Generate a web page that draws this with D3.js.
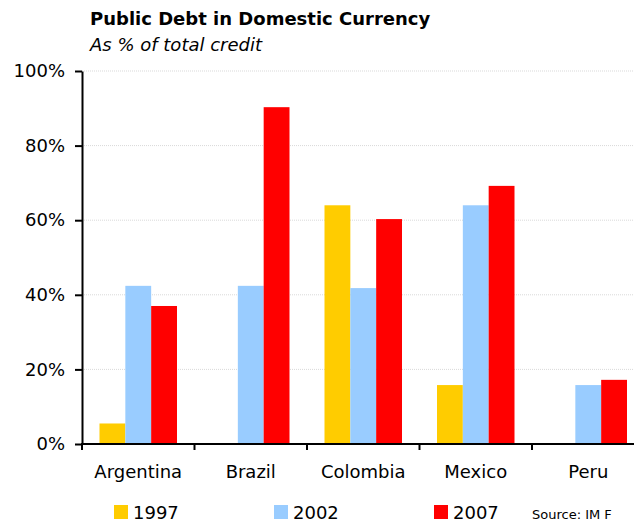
<!DOCTYPE html>
<html>
<head>
<meta charset="utf-8">
<script src="https://cdn.jsdelivr.net/npm/d3@7"></script>
<style>
  html, body { margin: 0; padding: 0; background: #fff; }
  svg { display: block; }
  text { font-family: "DejaVu Sans", Verdana, sans-serif; fill: #000; }
</style>
</head>
<body>
<svg id="chart" width="634" height="523"></svg>
<script>
// Share of public debt issued in domestic currency, % of total credit
const countries = ["Argentina", "Brazil", "Colombia", "Mexico", "Peru"];
const years = ["1997", "2002", "2007"];
const values1997 = [5.5, null, 64.0, 15.8, null];
const values2002 = [42.4, 42.4, 41.8, 64.0, 15.8];
const values2007 = [37.0, 90.3, 60.3, 69.2, 17.2];
const yTicks = [0, 20, 40, 60, 80, 100];
const colors = ["#FFCC00", "#99CCFF", "#FF0000"];

const series = [values1997, values2002, values2007];

const svg = d3.select("#chart");
const plotLeft = 82, plotTop = 71, plotBottom = 444;
const bandWidth = 112.5;
const plotRight = plotLeft + bandWidth * countries.length;

const x = d3.scaleBand().domain(countries).range([plotLeft, plotRight]).paddingInner(0).paddingOuter(0);
const xInner = d3.scaleBand().domain(years).range([17.5, bandWidth - 17.5]);
const y = d3.scaleLinear().domain([0, 100]).range([plotBottom, plotTop]);

// Title block
svg.append("text").attr("x", 90).attr("y", 25)
  .style("font-weight", "bold").style("font-size", "18px")
  .text("Public Debt in Domestic Currency");
svg.append("text").attr("x", 90).attr("y", 51)
  .style("font-style", "italic").style("font-size", "18px")
  .text("As % of total credit");

// Dotted gridlines
svg.append("g").selectAll("line").data(yTicks.filter(d => d > 0)).join("line")
  .attr("x1", plotLeft).attr("x2", 634)
  .attr("y1", d => y(d)).attr("y2", d => y(d))
  .attr("stroke", "#d9d9d9").attr("stroke-width", 1)
  .attr("stroke-dasharray", "1,1");

// Bars
const groups = svg.append("g").selectAll("g").data(countries).join("g")
  .attr("transform", d => `translate(${x(d)},0)`);
groups.selectAll("rect")
  .data((c, i) => years.map((yr, k) => ({ yr, k, v: series[k][i] })).filter(d => d.v != null))
  .join("rect")
  .attr("x", d => xInner(d.yr))
  .attr("width", xInner.bandwidth())
  .attr("y", d => y(d.v))
  .attr("height", d => y(0) - y(d.v))
  .attr("fill", d => colors[d.k]);

// Y axis
const yAxis = svg.append("g").attr("transform", `translate(${plotLeft},0)`)
  .call(d3.axisLeft(y).tickValues(yTicks).tickFormat(d => d + "%").tickSize(7).tickSizeOuter(0).tickPadding(10));
yAxis.select(".domain").attr("stroke", "#000").attr("stroke-width", 2);
yAxis.selectAll(".tick line").attr("stroke", "#000").attr("stroke-width", 2);
yAxis.selectAll("text").style("font-size", "18px").style("font-family", "DejaVu Sans, sans-serif");

// X axis with ticks at category boundaries
const xAxisG = svg.append("g");
xAxisG.append("line").attr("x1", plotLeft - 1).attr("x2", 634)
  .attr("y1", plotBottom).attr("y2", plotBottom).attr("stroke", "#000").attr("stroke-width", 2);
xAxisG.selectAll("line.tk").data(countries).join("line").attr("class", "tk")
  .attr("x1", d => x(d)).attr("x2", d => x(d))
  .attr("y1", plotBottom).attr("y2", plotBottom + 6)
  .attr("stroke", "#000").attr("stroke-width", 2);
xAxisG.selectAll("text").data(countries).join("text")
  .attr("x", d => x(d) + x.bandwidth() / 2).attr("y", 478)
  .attr("text-anchor", "middle").style("font-size", "18px")
  .text(d => d);

// Legend
const legendX = [114, 274, 434];
const legend = svg.append("g").selectAll("g").data(years).join("g")
  .attr("transform", (d, i) => `translate(${legendX[i]},505)`);
legend.append("rect").attr("width", 14).attr("height", 14).attr("fill", (d, i) => colors[i]);
legend.append("text").attr("x", 19).attr("y", 14).style("font-size", "18px").text(d => d);

svg.append("text").attr("x", 532).attr("y", 519).style("font-size", "13px")
  .text("Source: IM F");
</script>
</body>
</html>
